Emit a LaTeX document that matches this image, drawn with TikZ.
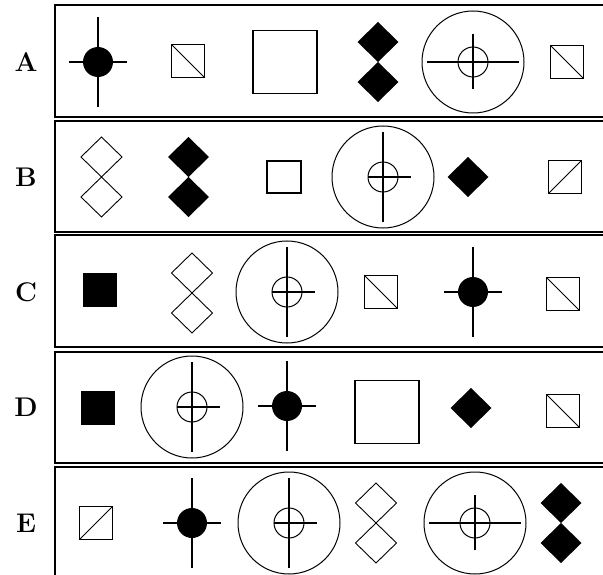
\documentclass[tikz,border=0pt]{standalone}

\begin{document}
\begin{tikzpicture}[x=1pt, y=-1pt,
    frame/.style={draw, line width=1.6pt},
    lbl/.style={font=\fontsize{27}{27}\selectfont\bfseries, inner sep=0pt},
    ln/.style={line width=1.3pt},
    dotcross/.pic={\fill (0,0) circle[radius=15pt];
      \draw[ln] (-29,0) -- (29,0) (0,-45) -- (0,45);},
    targeth/.pic={\draw[line width=1pt] (0,0) circle[radius=51pt] (0,0) circle[radius=15pt];
      \draw[ln] (-46,0) -- (46,0) (0,-28) -- (0,27);},
    targetv/.pic={\draw[line width=1pt] (0,0) circle[radius=51pt] (0,0) circle[radius=15pt];
      \draw[ln] (-15,0) -- (28,0) (0,-45) -- (0,45);},
    backsq/.pic={\draw[ln] (-16.5,-16.5) rectangle (16.5,16.5);
      \draw[line width=1pt] (-16.5,-16.5) -- (16.5,16.5);},
    fwdsq/.pic={\draw[ln] (-16.5,-16.5) rectangle (16.5,16.5);
      \draw[line width=1pt] (-16.5,16.5) -- (16.5,-16.5);},
    smallsq/.pic={\draw[ln] (-17,-16) rectangle (17,16);},
    bigsq/.pic={\draw[ln] (-32,-31.5) rectangle (32,31.5);},
    blacksq/.pic={\fill (-17,-17) rectangle (17,17);},
    blackdiam/.pic={\fill (0,-20) -- (20.5,0) -- (0,20) -- (-20.5,0) -- cycle;},
    blackpair/.pic={\fill (0,-40) -- (20.5,-20) -- (0,0) -- (-20.5,-20) -- cycle
      (0,0) -- (20.5,20) -- (0,40) -- (-20.5,20) -- cycle;},
    hollowpair/.pic={\draw[line width=0.9pt] (0,-40) -- (20.5,-20) -- (0,0) -- (-20.5,-20) -- cycle
      (0,0) -- (20.5,20) -- (0,40) -- (-20.5,20) -- cycle;}
  ]
  \clip (0,0) rectangle (603,575);

  % frames, open on the right
  \foreach \t/\b in {5/117, 121/232, 235/347, 352/463}
    \draw[frame] (610,\t) -- (55,\t) -- (55,\b) -- (610,\b);
  \draw[frame] (610,467) -- (55,467) -- (55,580);

  % row labels
  \node[lbl] (labA) at (26,62) {A};
  \node[lbl] (labB) at (26,177) {B};
  \node[lbl] (labC) at (26,292) {C};
  \node[lbl] (labD) at (26,407) {D};
  \node[lbl] (labE) at (26,523) {E};

  % row A
  \pic at (98,62) {dotcross};
  \pic at (188,61) {backsq};
  \pic at (285,62) {bigsq};
  \pic at (378,62) {blackpair};
  \pic at (473,62) {targeth};
  \pic at (567,62) {backsq};

  % row B
  \pic at (101.5,177) {hollowpair};
  \pic at (188.5,177) {blackpair};
  \pic at (284,177) {smallsq};
  \pic at (383,177) {targetv};
  \pic at (468,177) {blackdiam};
  \pic at (565,177) {fwdsq};

  % row C
  \pic at (100,290) {blacksq};
  \pic at (192,293) {hollowpair};
  \pic at (287,292) {targetv};
  \pic at (381,292) {backsq};
  \pic at (473,292) {dotcross};
  \pic at (563,294) {backsq};

  % row D
  \pic at (98,408) {blacksq};
  \pic at (192,407) {targetv};
  \pic at (287,406) {dotcross};
  \pic at (387,412) {bigsq};
  \pic at (471,408) {blackdiam};
  \pic at (563,411) {backsq};

  % row E
  \pic at (96,523) {fwdsq};
  \pic at (192,523) {dotcross};
  \pic at (289,523) {targetv};
  \pic at (376,523) {hollowpair};
  \pic at (475,523) {targeth};
  \pic at (561,523) {blackpair};
\end{tikzpicture}
\end{document}
